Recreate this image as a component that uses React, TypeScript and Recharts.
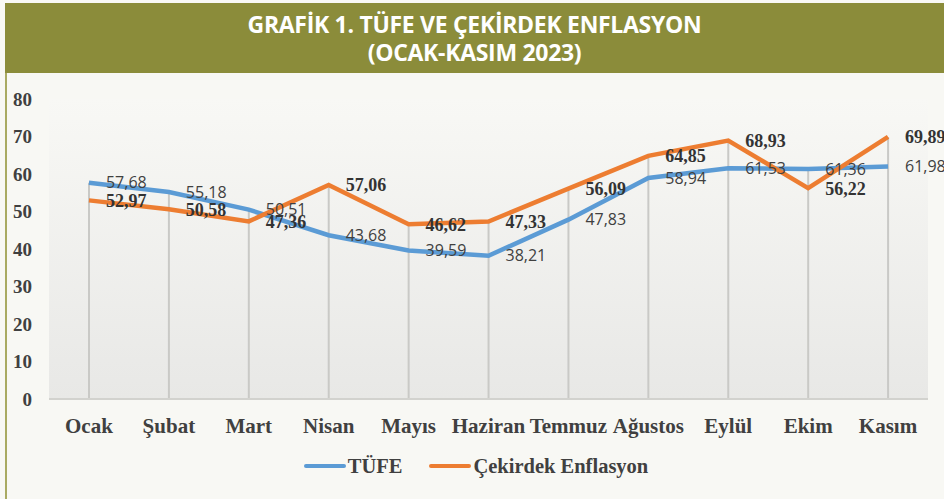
import { Bar, CartesianGrid, ComposedChart, LabelList, Legend, Line, XAxis, YAxis } from 'recharts';

const months = ['Ocak', 'Şubat', 'Mart', 'Nisan', 'Mayıs', 'Haziran', 'Temmuz', 'Ağustos', 'Eylül', 'Ekim', 'Kasım'];
const tufe = [57.68, 55.18, 50.51, 43.68, 39.59, 38.21, 47.83, 58.94, 61.53, 61.36, 61.98];
const cekirdek = [52.97, 50.58, 47.36, 57.06, 46.62, 47.33, 56.09, 64.85, 68.93, 56.22, 69.89];
const yTicks = [0, 10, 20, 30, 40, 50, 60, 70, 80];

const BLUE = '#5B9BD5';
const ORANGE = '#ED7D31';
const OLIVE = '#8B8C3A';
const TEXT = '#404040';

const data = months.map((month, i) => ({
  month,
  tufe: tufe[i],
  cekirdek: cekirdek[i],
  drop: Math.max(tufe[i], cekirdek[i]),
}));

const fmt = (v: number) => v.toFixed(2).replace('.', ',');

const serif = '"Liberation Serif", "Times New Roman", serif';

function LegendContent() {
  const items = [
    { name: 'TÜFE', color: BLUE },
    { name: 'Çekirdek Enflasyon', color: ORANGE },
  ];
  return (
    <div style={{ width: 944, height: 26, display: 'flex', justifyContent: 'center', alignItems: 'center', paddingLeft: 8, boxSizing: 'border-box' }}>
      {items.map((it, i) => (
        <span key={it.name} style={{ display: 'flex', alignItems: 'center', marginLeft: i ? 27 : 0 }}>
          <span style={{ width: 42, height: 4, background: it.color, borderRadius: 2, marginRight: 2 }} />
          <span style={{ fontFamily: serif, fontWeight: 700, fontSize: 20.5, color: TEXT }}>{it.name}</span>
        </span>
      ))}
    </div>
  );
}

export default function App() {
  return (
    <div style={{ position: 'absolute', left: 0, top: 0, width: 944, height: 499, background: '#F8F8F4', overflow: 'hidden' }}>
      <ComposedChart width={944} height={499} data={data} margin={{ top: 99, right: 16, bottom: 20, left: 0 }}>
        <defs>
          <linearGradient id="plotBg" x1="0" y1="0" x2="0" y2="1">
            <stop offset="0%" stopColor="#F8F8F5" />
            <stop offset="100%" stopColor="#E8E8E6" />
          </linearGradient>
        </defs>
        <CartesianGrid horizontal={false} vertical={false} fill="url(#plotBg)" />
        <XAxis dataKey="month" height={54} tickSize={0} tickMargin={19} tickLine={false}
          axisLine={{ stroke: '#D2D2CE', strokeWidth: 2 }}
          tick={{ fill: TEXT, fontSize: 21, fontFamily: serif, fontWeight: 700 }} interval={0} />
        <YAxis width={49} domain={[0, 80]} ticks={yTicks} axisLine={false} tickLine={false} tickSize={0} tickMargin={17}
          tick={{ fill: TEXT, fontSize: 19, fontFamily: serif, fontWeight: 700 }} />
        <Bar dataKey="drop" barSize={2} fill="#C9C9C6" isAnimationActive={false} legendType="none" />
        <Line type="linear" dataKey="tufe" name="TÜFE" stroke={BLUE} strokeWidth={4.5} dot={false} isAnimationActive={false}>
          <LabelList dataKey="tufe" position="right" offset={17} formatter={(v: any) => fmt(Number(v))}
            style={{ fill: TEXT, fontSize: 16, fontFamily: '"Open Sans", sans-serif' }} />
        </Line>
        <Line type="linear" dataKey="cekirdek" name="Çekirdek Enflasyon" stroke={ORANGE} strokeWidth={4.5} dot={false} isAnimationActive={false}>
          <LabelList dataKey="cekirdek" position="right" offset={17} formatter={(v: any) => fmt(Number(v))}
            style={{ fill: '#333333', fontSize: 18, fontFamily: serif, fontWeight: 700 }} />
        </Line>
        <Legend verticalAlign="bottom" content={() => <LegendContent />} wrapperStyle={{ left: 0, width: 944 }} />
      </ComposedChart>
      <div style={{ position: 'absolute', left: 5, top: 73, width: 2, height: 426, background: '#A9AA62' }} />
      <div style={{
        position: 'absolute', left: 5, top: 3, width: 939, height: 70, background: OLIVE, color: '#FFFFFF',
        fontFamily: '"Open Sans", sans-serif', fontWeight: 700, fontSize: 23, lineHeight: '28px',
        textAlign: 'center', display: 'flex', flexDirection: 'column', justifyContent: 'center', letterSpacing: -0.3,
      }}>
        <div>GRAFİK 1. TÜFE VE ÇEKİRDEK ENFLASYON</div>
        <div>(OCAK-KASIM 2023)</div>
      </div>
    </div>
  );
}
